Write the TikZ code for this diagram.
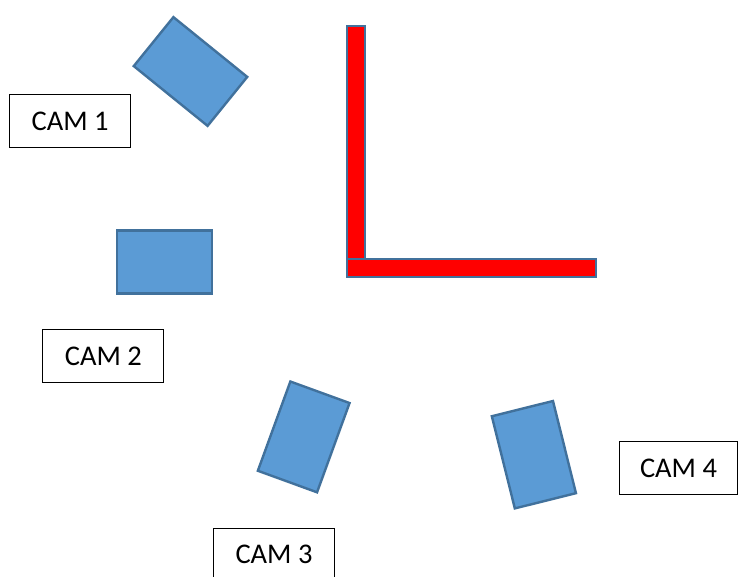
\documentclass[tikz,border=0pt]{standalone}
\usepackage{fontspec}
\setmainfont{Carlito}
\definecolor{camfill}{HTML}{5B9BD5}
\definecolor{camline}{HTML}{41719C}
\definecolor{wallred}{HTML}{FF0000}
\begin{document}
\begin{tikzpicture}[x=1pt,y=-1pt,
  cam/.style={draw=camline,fill=camfill,line width=2.4pt,minimum width=95pt,minimum height=63pt,inner sep=0pt},
  camlabel/.style={draw=black,line width=0.9pt,minimum width=121pt,minimum height=53pt,inner sep=0pt,font=\fontsize{28.5}{32}\selectfont},
  wall/.style={draw=camline,fill=wallred,line width=2pt,inner sep=0pt}]
\useasboundingbox (0,0) rectangle (738,576);
\clip (0,0) rectangle (738,576);
% walls
\node[wall,minimum width=18pt,minimum height=235pt] (wallv) at (356,143.5) {};
\node[wall,minimum width=249pt,minimum height=18pt] (wallh) at (471.5,267.5) {};
% cameras
\node[cam,rotate=-39] (cam1) at (190.5,71.5) {};
\node[cam] (cam2) at (164.5,262) {};
\node[cam,rotate=-20,minimum width=63pt,minimum height=95pt] (cam3) at (303.7,436.9) {};
\node[cam,rotate=14,minimum width=63pt,minimum height=95pt] (cam4) at (533.9,454.7) {};
% labels
\node[camlabel] (lab1) at (70.2,121.2) {CAM 1};
\node[camlabel] (lab2) at (103.3,356) {CAM 2};
\node[camlabel,anchor=north] (lab3) at (274,527.5) {CAM 3};
\node[camlabel,minimum width=118pt] (lab4) at (678.5,468.2) {CAM 4};
\end{tikzpicture}
\end{document}
